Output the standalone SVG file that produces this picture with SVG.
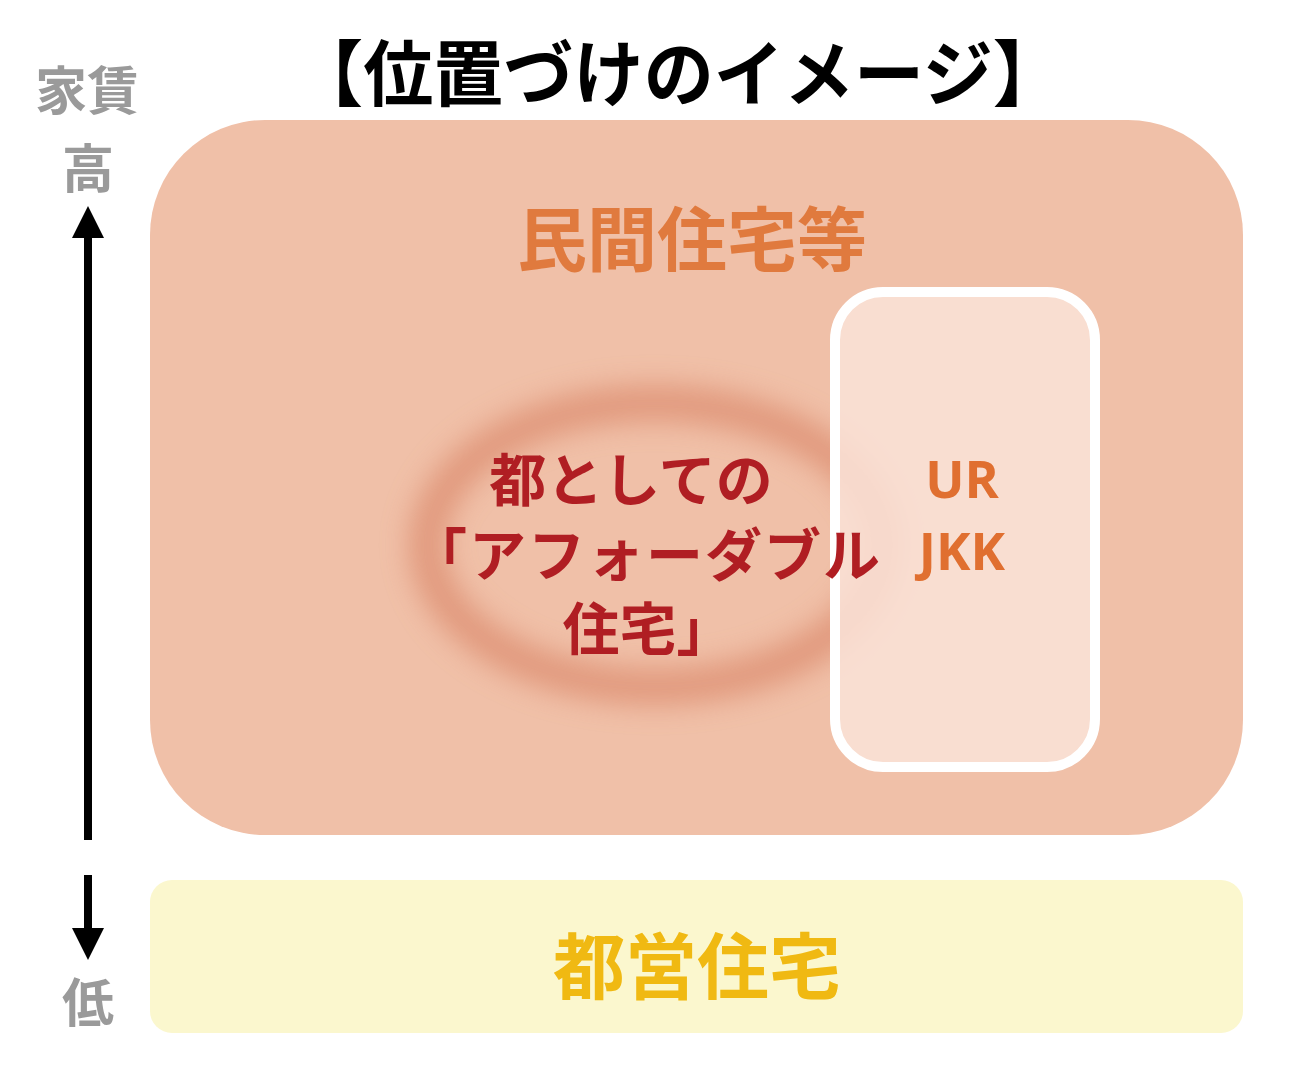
<svg xmlns="http://www.w3.org/2000/svg" width="1300" height="1077" viewBox="0 0 1300 1077">
<style>
.jp{font-family:"Noto Sans CJK JP","Noto Sans",sans-serif;font-weight:bold;text-anchor:middle}
.gray{fill:#9a9a9a;font-size:52px}
.red{fill:#B01E23;font-size:57px}
.ur{fill:#E06F30;font-size:52px;font-family:"Open Sans","Noto Sans",sans-serif;font-weight:bold;text-anchor:middle}
</style>
<defs>
<filter id="blur" x="-30%" y="-30%" width="160%" height="160%"><feGaussianBlur stdDeviation="15"/></filter>
<marker id="ah" markerWidth="4" markerHeight="4" refX="2" refY="2" orient="auto" markerUnits="strokeWidth"><path d="M0,0 L4,2 L0,4 Z" fill="#000"/></marker>
</defs>
<rect width="1300" height="1077" fill="#fff"/>
<text class="jp" x="678" y="100" font-size="72" fill="#000" textLength="770" lengthAdjust="spacingAndGlyphs">【位置づけのイメージ】</text>
<g id="axis">
<text class="jp gray" x="87" y="110">家賃</text>
<text class="jp gray" x="88" y="188">高</text>
<text class="jp gray" x="88" y="1022">低</text>
</g>
<g id="connectors">
<line x1="88" y1="840" x2="88" y2="222" stroke="#000" stroke-width="8" marker-end="url(#ah)"/>
<line x1="88" y1="875" x2="88" y2="944" stroke="#000" stroke-width="8" marker-end="url(#ah)"/>
</g>
<g id="private">
<rect x="150" y="120" width="1093" height="715" rx="115" fill="#F0C0A8"/>
<text class="jp" x="692" y="266" font-size="70" fill="#E07A3E">民間住宅等</text>
</g>
<g id="glow">
<ellipse cx="655" cy="545" rx="228" ry="142" fill="none" stroke="#D98466" stroke-width="32" opacity="0.75" filter="url(#blur)"/>
</g>
<g id="ur">
<rect x="835" y="292" width="260" height="475" rx="48" fill="#FAE3D8" fill-opacity="0.85" stroke="#fff" stroke-width="10"/>
<text class="ur" x="962" y="498">UR</text>
<text class="ur" x="962" y="570">JKK</text>
</g>
<g id="affordable">
<text class="jp red" x="631" y="501">都としての</text>
<text class="jp red" x="645" y="576" textLength="470" lengthAdjust="spacing">「アフォーダブル</text>
<text class="jp red" x="648" y="650">住宅」</text>
</g>
<g id="public">
<rect x="150" y="880" width="1093" height="153" rx="22" fill="#FBF7CE"/>
<text class="jp" x="697" y="993" font-size="72" fill="#F0B912">都営住宅</text>
</g>
</svg>
